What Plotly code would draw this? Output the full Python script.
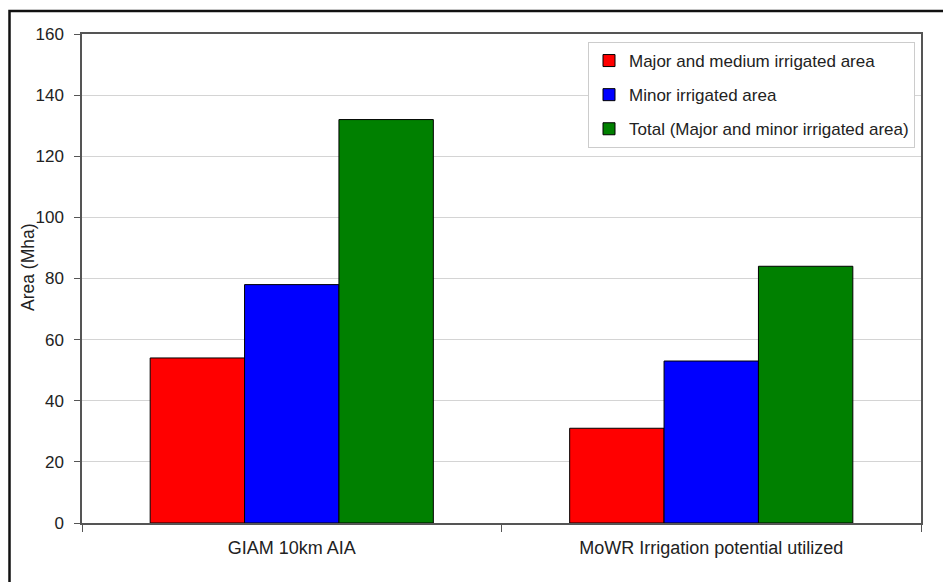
import plotly.graph_objects as go

categories = ["GIAM 10km AIA", "MoWR Irrigation potential utilized"]
series_names = [
    "Major and medium irrigated area",
    "Minor irrigated area",
    "Total (Major and minor irrigated area)",
]
major_medium = [54, 31]
minor = [78, 53]
total = [132, 84]
y_ticks = [0, 20, 40, 60, 80, 100, 120, 140, 160]

colors = ["#FF0000", "#0000FF", "#008000"]
values = [major_medium, minor, total]

fig = go.Figure()
for i, (name, vals) in enumerate(zip(series_names, values)):
    fig.add_trace(go.Bar(
        x=categories, y=vals, name=name,
        marker=dict(color=colors[i], line=dict(color="#000000", width=1)),
        legendgroup=f"g{i}",
    ))

W, H = 943, 582
L, R, T, B = 82, 22, 34, 59
pw, ph = W - L - R, H - T - B

fig.update_layout(
    width=W, height=H,
    margin=dict(l=L, r=R, t=T, b=B, autoexpand=False),
    paper_bgcolor="white", plot_bgcolor="white",
    barmode="group", bargap=0.325, bargroupgap=0,
    font=dict(family="Liberation Sans, Arial, sans-serif", size=17, color="#222222"),
    showlegend=True,
    legend=dict(
        x=(588 - L) / pw, y=1 - (42 - T) / ph, xanchor="left", yanchor="top",
        bgcolor="white", bordercolor="#cccccc", borderwidth=1,
        font=dict(size=17, color="#222222"),
        traceorder="grouped", tracegroupgap=9,
        itemwidth=30,
    ),
    xaxis=dict(
        type="category", tickson="boundaries", ticks="outside", ticklen=7,
        tickcolor="#555555", showline=True, linecolor="#555555", linewidth=1.5,
        mirror=True, showgrid=False, ticklabelstandoff=8,
        tickfont=dict(size=18),
    ),
    yaxis=dict(
        range=[0, 160], tickvals=y_ticks, ticks="outside", ticklen=6,
        tickcolor="#555555", showline=True, linecolor="#555555", linewidth=1.5,
        mirror=True, showgrid=True, gridcolor="#d4d4d4", gridwidth=1,
        zeroline=False, ticklabelstandoff=7, tickfont=dict(size=17),
    ),
    annotations=[dict(
        text="Area (Mha)", xref="paper", yref="paper",
        x=(28 - L) / pw, y=1 - (267 - T) / ph, textangle=-90, showarrow=False,
        font=dict(size=17.5, color="#222222"), xanchor="center", yanchor="middle",
    )],
    shapes=[dict(
        type="rect", xref="paper", yref="paper",
        x0=(9.5 - L) / pw, x1=(960 - L) / pw,
        y0=-(600 - T - ph) / ph, y1=1 + (T - 11) / ph,
        line=dict(color="#111111", width=2.5), fillcolor="rgba(0,0,0,0)",
        layer="below",
    )],
)

fig.write_html(
    "out.html",
    config={"displayModeBar": False},
    post_script="document.body.style.margin='0px';document.body.style.overflow='hidden';",
)
